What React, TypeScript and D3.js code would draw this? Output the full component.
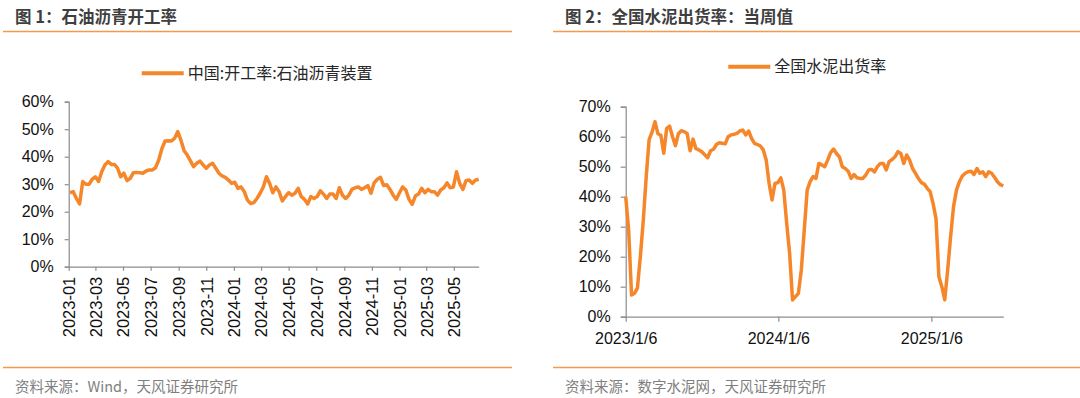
import React, { useEffect, useRef } from 'react';
import * as d3 from 'd3';

// 图1 石油沥青开工率 (%), 每周
const asphaltFirstWeek = new Date(2023, 0, 4);
const asphaltRate = [
  26.9, 27.3, 24.8, 22.8, 31, 30, 30, 31.8, 32.7, 31,
  34.5, 37, 38.2, 37.2, 37.2, 35.8, 32.7, 34, 31.3, 32.1,
  34.2, 34.3, 34.2, 34, 34.8, 35.2, 35.2, 36, 38.8, 43,
  45.7, 45.8, 45.7, 46.7, 49.1, 46, 42.2, 40.6, 38.5, 36.4,
  37.6, 38.4, 37, 35.8, 37, 37.6, 35.8, 34, 33, 32.5,
  31.5, 30.3, 30.7, 28.5, 29, 27.3, 24.2, 23, 23.3, 24.8,
  26.7, 29, 32.7, 30.3, 26.9, 29, 27.3, 23.9, 25.5, 26.9,
  26, 26.7, 28.5, 25.5, 24.5, 22.8, 25.5, 24.8, 25.5, 27.6,
  26.4, 24.8, 26.4, 26.4, 24.8, 28.7, 26, 24.8, 26, 28.1,
  28.7, 29, 28.1, 28.7, 29.5, 26.7, 30.5, 31.8, 32.5, 29.5,
  29.8, 28.1, 26, 24.5, 26.9, 29, 27.9, 24.5, 22.7, 25.7,
  26.4, 28.5, 26.9, 28.1, 27.3, 27.3, 26, 27.9, 28.7, 30.5,
  28.7, 29, 34.5, 30.3, 28.1, 31.3, 31.5, 30.3, 31.5, 31.8,
];
const asphaltYTicks = [0, 10, 20, 30, 40, 50, 60];

// 图2 全国水泥出货率 (%), 每周
const cementFirstWeek = new Date(2023, 0, 6);
const cementRate = [
  40, 29, 7.2, 7.8, 9.5, 20, 32, 46.5, 59, 61.5,
  65, 61, 60.5, 54.5, 62.8, 63.5, 60, 57, 61, 62,
  61.7, 61, 55.3, 59.2, 56, 55.6, 55, 54, 53, 55.3,
  55.8, 57.4, 58, 57.8, 57.6, 60, 60.6, 60.8, 61.1, 61.9,
  62.2, 60.6, 61.9, 59.4, 57.8, 57.4, 56.9, 55.6, 52.2, 44.4,
  38.9, 44.4, 44.7, 46.3, 42.2, 31.1, 21.1, 5.6, 6.7, 7.8,
  15.6, 28.9, 42.2, 45, 46.7, 46.1, 51.1, 50.6, 50, 52.2,
  54.7, 55.9, 54.4, 53.3, 50, 49.4, 48.5, 46.1, 47.4, 46.3,
  46.1, 46.1, 47.2, 48.9, 49.1, 48.3, 50, 51.1, 51.1, 48.9,
  51.7, 52.4, 53.3, 55, 54.4, 51.1, 53.9, 52.2, 49.4, 47.8,
  46.1, 44.7, 44.2, 42.8, 41.7, 37.8, 32.8, 13.3, 10, 5.6,
  15.6, 26.7, 36.7, 42.2, 45, 46.9, 47.8, 48.3, 48.5, 47.4,
  49.4, 47.8, 48.3, 46.7, 48.3, 47.8, 46.5, 45, 44, 43.6,
];
const cementYTicks = [0, 10, 20, 30, 40, 50, 60, 70];
const cementXTicks = [new Date(2023, 0, 6), new Date(2024, 0, 6), new Date(2025, 0, 6)];

const ORANGE = '#F5862A';
const RULE = '#F49A4E';
const AXIS = '#8C8C8C';
const CJK = '"Noto Sans CJK SC", "Noto Sans", sans-serif';
const LATIN = '"Liberation Sans", Arial, sans-serif';

const weekly = (start: Date, n: number) => d3.range(n).map((i) => d3.timeDay.offset(start, 7 * i));

export default function App() {
  const svgRef = useRef<SVGSVGElement>(null);

  useEffect(() => {
    const svg = d3.select(svgRef.current);
    svg.selectAll('*').remove();

    // 标题、分隔线、资料来源
    const header = (x0: number, x1: number, tx: number, title: string, source: string) => {
      svg.append('text').attr('x', tx).attr('y', 23).text(title)
        .attr('font-family', CJK).attr('font-weight', 700).attr('font-size', 16.5).attr('fill', '#3F3F3F');
      svg.append('line').attr('x1', x0).attr('x2', x1).attr('y1', 31.5).attr('y2', 31.5)
        .attr('stroke', RULE).attr('stroke-width', 1.5);
      svg.append('line').attr('x1', x0).attr('x2', x1).attr('y1', 367.5).attr('y2', 367.5)
        .attr('stroke', RULE).attr('stroke-width', 1.5);
      svg.append('text').attr('x', tx).attr('y', 392).text(source)
        .attr('font-family', CJK).attr('font-size', 14.5).attr('fill', '#7F7F7F');
    };
    header(3, 512, 15, '图 1：石油沥青开工率', '资料来源：Wind，天风证券研究所');
    header(553, 1080, 565, '图 2：全国水泥出货率：当周值', '资料来源：数字水泥网，天风证券研究所');

    const legend = (x: number, y: number, label: string) => {
      svg.append('line').attr('x1', x).attr('x2', x + 42).attr('y1', y).attr('y2', y)
        .attr('stroke', ORANGE).attr('stroke-width', 4);
      svg.append('text').attr('x', x + 46).attr('y', y).attr('dy', '0.36em').text(label)
        .attr('font-family', CJK).attr('font-size', 16).attr('fill', '#262626');
    };

    const styleAxis = (g: any) => {
      g.select('.domain').attr('stroke', AXIS).attr('stroke-width', 1.2);
      g.selectAll('.tick line').attr('stroke', AXIS).attr('stroke-width', 1.2);
      g.selectAll('text').attr('font-family', LATIN).attr('font-size', 16).attr('fill', '#111');
    };

    // ---- 图1 ----
    const aDates = weekly(asphaltFirstWeek, asphaltRate.length);
    const ax = d3.scaleTime()
      .domain([new Date(2023, 0, 1), aDates[aDates.length - 1]])
      .range([68.7, 478.7]);
    const ay = d3.scaleLinear().domain([0, 60]).range([266.7, 101.7]);
    const aTicks = d3.range(0, 30, 2).map((m) => d3.timeMonth.offset(new Date(2023, 0, 1), m));

    svg.append('g').attr('transform', `translate(68.7,0)`)
      .call(d3.axisLeft(ay).tickValues(asphaltYTicks).tickSize(4).tickPadding(11)
        .tickFormat((d: any) => `${d}%`))
      .call(styleAxis);
    const gax = svg.append('g').attr('transform', `translate(0,266.7)`)
      .call(d3.axisBottom(ax).tickValues(aTicks).tickSize(4).tickSizeOuter(0)
        .tickFormat(d3.timeFormat('%Y-%m') as any))
      .call(styleAxis);
    gax.selectAll('text').attr('transform', 'rotate(-90)').attr('text-anchor', 'end')
      .attr('x', -10).attr('y', 0).attr('dy', '0.36em').attr('font-size', 16.5);

    svg.append('path').datum(asphaltRate)
      .attr('fill', 'none').attr('stroke', ORANGE).attr('stroke-width', 3.5)
      .attr('stroke-linejoin', 'round')
      .attr('d', d3.line<number>().x((_, i) => ax(aDates[i])).y((d) => ay(d)));
    legend(141.7, 73.3, '中国:开工率:石油沥青装置');

    // ---- 图2 ----
    const cDates = weekly(cementFirstWeek, cementRate.length);
    const cx = d3.scaleTime().domain([cDates[0], cDates[cDates.length - 1]]).range([625.7, 1003.3]);
    const cy = d3.scaleLinear().domain([0, 70]).range([316.7, 106.7]);

    svg.append('g').attr('transform', `translate(625.7,0)`)
      .call(d3.axisLeft(cy).tickValues(cementYTicks).tickSize(5).tickPadding(10)
        .tickFormat((d: any) => `${d}%`))
      .call(styleAxis);
    const gcx = svg.append('g').attr('transform', `translate(0,316.7)`)
      .call(d3.axisBottom(cx).tickValues(cementXTicks).tickSize(5).tickSizeOuter(0)
        .tickFormat(d3.timeFormat('%Y/%-m/%-d') as any))
      .call(styleAxis);
    gcx.selectAll('text').attr('y', 16).attr('dy', '0.71em');

    svg.append('path').datum(cementRate)
      .attr('fill', 'none').attr('stroke', ORANGE).attr('stroke-width', 3.5)
      .attr('stroke-linejoin', 'round')
      .attr('d', d3.line<number>().x((_, i) => cx(cDates[i])).y((d) => cy(d)));
    legend(728.3, 66.7, '全国水泥出货率');
  }, []);

  return (
    <svg
      ref={svgRef}
      width={1080}
      height={398}
      style={{ position: 'absolute', left: 0, top: 0, background: '#fff', display: 'block' }}
    />
  );
}
